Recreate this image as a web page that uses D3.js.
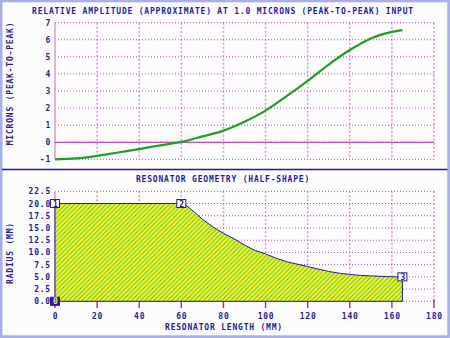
<!DOCTYPE html>
<html>
<head>
<meta charset="utf-8">
<script src="https://cdn.jsdelivr.net/npm/d3@7"></script>
<style>
  html,body{margin:0;padding:0;background:#fcfcfc;}
  svg{display:block;}
  text{font-family:"DejaVu Sans Mono",monospace;font-weight:bold;font-size:8px;fill:#1c1ca8;letter-spacing:0.8px;}
</style>
</head>
<body>
<div id="chart"></div>
<script>
// amplitude curve (top panel)
const ampX=[0,10,20,30,40,50,60,70,80,90,100,110,120,130,140,150,160,165];
const ampY=[-1.0,-0.95,-0.8,-0.6,-0.4,-0.18,0.02,0.34,0.68,1.2,1.85,2.7,3.6,4.55,5.4,6.08,6.46,6.57];
const ampTicks=[-1,0,1,2,3,4,5,6,7];

// resonator half-shape (bottom panel)
const geoX=[0,0,60,62,65,70,75,80,85,90,95,100,105,110,115,120,125,130,135,140,145,150,155,160,165,165];
const geoR=[0,20,20,19.7,18.7,16.8,15.2,13.9,12.8,11.5,10.4,9.7,8.8,8.1,7.6,7.1,6.6,6.1,5.75,5.5,5.3,5.2,5.1,5.02,5.0,0];
const geoTicks=[0,2.5,5,7.5,10,12.5,15,17.5,20,22.5];
const ptNum=[0,1,2,3];
const ptX=[0,0,60,165];
const ptR=[0,20,20,5];

const lenTicks=[0,20,40,60,80,100,120,140,160,180];

const W=450,H=338;
const svg=d3.select("#chart").append("svg").attr("width",W).attr("height",H);

const defs=svg.append("defs");
const pat=defs.append("pattern").attr("id","hatch")
  .attr("patternUnits","userSpaceOnUse").attr("width",4.5).attr("height",4.5);
pat.append("rect").attr("width",4.5).attr("height",4.5).attr("fill","#f2f42a");
pat.append("path").attr("d","M-1,5.5 L5.5,-1 M-1,1 L1,-1 M3.5,5.5 L5.5,3.5")
  .attr("stroke","#b4dc3c").attr("stroke-width",1.2);
pat.append("path").attr("d","M-1,5.5 L5.5,-1 M-1,1 L1,-1 M3.5,5.5 L5.5,3.5")
  .attr("stroke","#28a830").attr("stroke-width",0.6);

// frame
svg.append("rect").attr("x",1.2).attr("y",1).attr("width",W-2.6).attr("height",H-2.4)
  .attr("fill","#fcfcfc").attr("stroke","#a8aee8").attr("stroke-width",2.6);
svg.append("line").attr("x1",2).attr("x2",W-2.5).attr("y1",169.5).attr("y2",169.5)
  .attr("stroke","#1818a0").attr("stroke-width",1.4);

const x=d3.scaleLinear().domain([0,180]).range([55,434]);
const yA=d3.scaleLinear().domain([-1,7]).range([159.3,22.7]);
const yG=d3.scaleLinear().domain([0,22.5]).range([301.3,191.3]);

function grid(y,ticks){
  const g=svg.append("g");
  g.selectAll("line.v").data(lenTicks.slice(1)).enter().append("line")
    .attr("x1",d=>x(d)).attr("x2",d=>x(d))
    .attr("y1",y.range()[1]).attr("y2",y.range()[0])
    .attr("stroke","#e098e0").attr("stroke-width",1.6).attr("stroke-dasharray","2,2");
  g.selectAll("line.h").data(ticks).enter().append("line")
    .attr("x1",x(0)).attr("x2",x(180))
    .attr("y1",d=>y(d)).attr("y2",d=>y(d))
    .attr("stroke","#c040c0").attr("stroke-width",1).attr("stroke-dasharray","1,2");
  g.append("line").attr("x1",x(0)).attr("x2",x(0))
    .attr("y1",y.range()[1]).attr("y2",y.range()[0])
    .attr("stroke","#e4b0e4").attr("stroke-width",2);
  g.selectAll("text").data(ticks).enter().append("text")
    .attr("x",51).attr("y",d=>y(d)+3).attr("text-anchor","end")
    .text(d=>ticks===geoTicks?d.toFixed(1):d);
}

// top panel
svg.append("text").attr("x",223).attr("y",13.6).attr("text-anchor","middle")
  .text("RELATIVE AMPLITUDE (APPROXIMATE) AT 1.0 MICRONS (PEAK-TO-PEAK) INPUT");
grid(yA,ampTicks);
svg.append("line").attr("x1",x(0)).attr("x2",x(180)).attr("y1",yA(0)).attr("y2",yA(0))
  .attr("stroke","#c020c0").attr("stroke-width",1.2);
svg.append("path").datum(d3.range(ampX.length))
  .attr("fill","none").attr("stroke","#1fa01f").attr("stroke-width",2.2)
  .attr("d",d3.line().x(i=>x(ampX[i])).y(i=>yA(ampY[i])).curve(d3.curveMonotoneX));
svg.append("text").attr("transform","translate(13,83.5) rotate(-90)").attr("text-anchor","middle")
  .text("MICRONS (PEAK-TO-PEAK)");

// bottom panel
svg.append("text").attr("x",223).attr("y",181.6).attr("text-anchor","middle")
  .text("RESONATOR GEOMETRY (HALF-SHAPE)");
grid(yG,geoTicks);
svg.append("g").selectAll("line").data(lenTicks).enter().append("line")
  .attr("x1",d=>x(d)).attr("x2",d=>x(d)).attr("y1",yG(0)-2).attr("y2",308)
  .attr("stroke","#b020b0").attr("stroke-width",1.4);
svg.append("g").selectAll("text").data(lenTicks).enter().append("text")
  .attr("x",d=>x(d)+0.5).attr("y",318.6).attr("text-anchor","middle").text(d=>d);

const shapeLine=d3.line().x(i=>x(geoX[i])).y(i=>yG(geoR[i]));
svg.append("path").datum(d3.range(geoX.length))
  .attr("fill","url(#hatch)").attr("stroke","#1c1ca8").attr("stroke-width",1)
  .attr("d",d=>shapeLine(d)+"Z");

const pts=svg.append("g").selectAll("g").data(ptNum).enter().append("g")
  .attr("transform",(d,i)=>`translate(${x(ptX[i])},${yG(ptR[i])})`);
pts.append("rect").attr("x",-4.5).attr("y",-4).attr("width",9).attr("height",8)
  .attr("fill",d=>d===0?"#1c1ca8":"#ffffff").attr("stroke","#1c1ca8").attr("stroke-width",1);
pts.append("text").attr("x",0.4).attr("y",3).attr("text-anchor","middle")
  .style("letter-spacing","0px")
  .style("fill",d=>d===0?"#e8e890":"#1c1ca8").text(d=>d);

svg.append("text").attr("transform","translate(13,253) rotate(-90)").attr("text-anchor","middle")
  .text("RADIUS (MM)");
svg.append("text").attr("x",224).attr("y",329.8).attr("text-anchor","middle")
  .text("RESONATOR LENGTH (MM)");
</script>
</body>
</html>
